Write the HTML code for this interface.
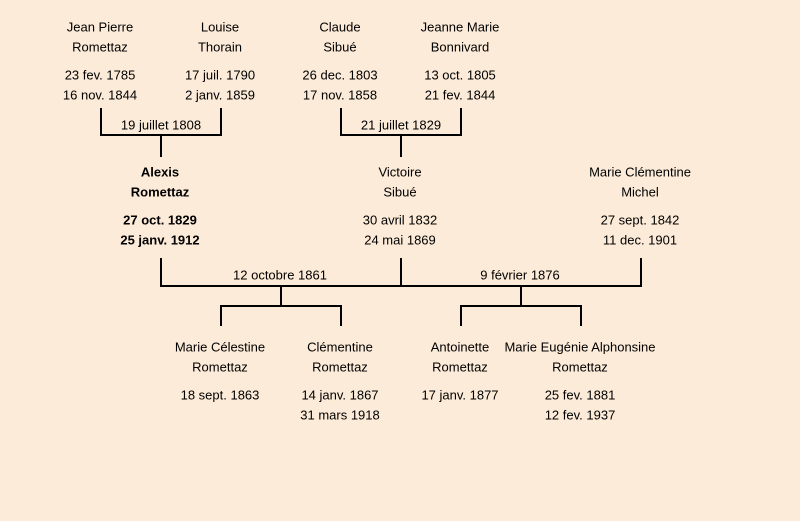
<!DOCTYPE html>
<html><head><meta charset="utf-8"><style>
html,body{margin:0;padding:0;background:#fcebd8;}
svg{display:block}
text{font-family:"Liberation Sans",sans-serif;font-size:13px;fill:#000;text-anchor:middle;dominant-baseline:middle}
.b{font-weight:bold}
</style></head><body>
<svg width="800" height="521" viewBox="0 0 800 521">
<rect width="800" height="521" fill="#fcebd8"/>
<g stroke="#000" stroke-width="2" fill="none">
<path d="M101 108V135H221V108M161 135V157"/>
<path d="M341 108V135H461V108M401 135V157"/>
<path d="M161 258V286H641V258M401 258V286"/>
<path d="M281 286V306M221 326V306H341V326"/>
<path d="M521 286V306M461 326V306H581V326"/>
</g>
<g transform="translate(0,1)">
<text x="100" y="27">Jean Pierre</text><text x="100" y="47">Romettaz</text><text x="100" y="75">23 fev. 1785</text><text x="100" y="95">16 nov. 1844</text>
<text x="220" y="27">Louise</text><text x="220" y="47">Thorain</text><text x="220" y="75">17 juil. 1790</text><text x="220" y="95">2 janv. 1859</text>
<text x="340" y="27">Claude</text><text x="340" y="47">Sibué</text><text x="340" y="75">26 dec. 1803</text><text x="340" y="95">17 nov. 1858</text>
<text x="460" y="27">Jeanne Marie</text><text x="460" y="47">Bonnivard</text><text x="460" y="75">13 oct. 1805</text><text x="460" y="95">21 fev. 1844</text>
<text x="161" y="125">19 juillet 1808</text>
<text x="401" y="125">21 juillet 1829</text>
<text class="b" x="160" y="172">Alexis</text><text class="b" x="160" y="192">Romettaz</text><text class="b" x="160" y="220">27 oct. 1829</text><text class="b" x="160" y="240">25 janv. 1912</text>
<text x="400" y="172">Victoire</text><text x="400" y="192">Sibué</text><text x="400" y="220">30 avril 1832</text><text x="400" y="240">24 mai 1869</text>
<text x="640" y="172">Marie Clémentine</text><text x="640" y="192">Michel</text><text x="640" y="220">27 sept. 1842</text><text x="640" y="240">11 dec. 1901</text>
<text x="280" y="275">12 octobre 1861</text>
<text x="520" y="275">9 février 1876</text>
<text x="220" y="347">Marie Célestine</text><text x="220" y="367">Romettaz</text><text x="220" y="395">18 sept. 1863</text>
<text x="340" y="347">Clémentine</text><text x="340" y="367">Romettaz</text><text x="340" y="395">14 janv. 1867</text><text x="340" y="415">31 mars 1918</text>
<text x="460" y="347">Antoinette</text><text x="460" y="367">Romettaz</text><text x="460" y="395">17 janv. 1877</text>
<text x="580" y="347">Marie Eugénie Alphonsine</text><text x="580" y="367">Romettaz</text><text x="580" y="395">25 fev. 1881</text><text x="580" y="415">12 fev. 1937</text>
</g>
</svg>
</body></html>
